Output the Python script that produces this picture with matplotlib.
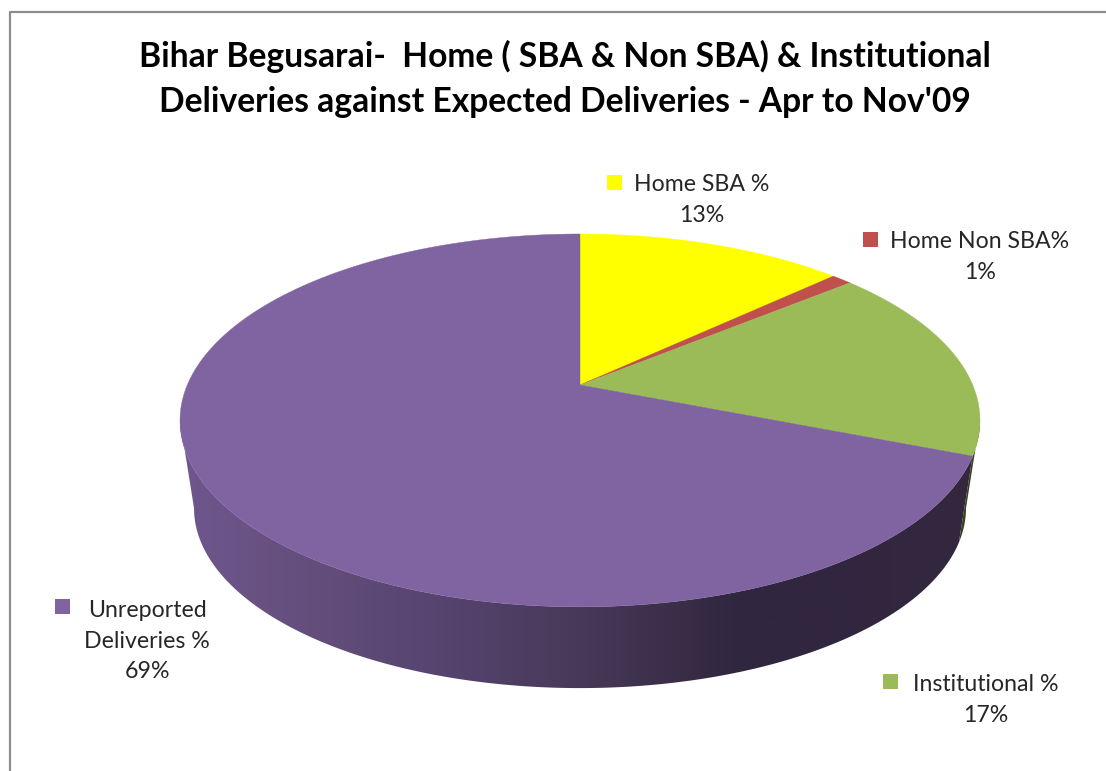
"""Begusarai deliveries: Excel-style 3D pie, drawn with a perspective map of the unit circle."""
import numpy as np
import matplotlib
matplotlib.use("Agg")
import matplotlib.pyplot as plt
from matplotlib.patches import Polygon, Rectangle

plt.rcParams["font.family"] = ["Lato", "DejaVu Sans"]

categories = ["Home SBA %", "Home Non SBA%", "Institutional %", "Unreported\nDeliveries %"]
values = [13, 1, 17, 69]
colors = ["#ffff00", "#c0504d", "#9bbb59", "#8064a2"]
title = "Bihar Begusarai-  Home ( SBA & Non SBA) & Institutional\nDeliveries against Expected Deliveries - Apr to Nov'09"

# layout, all in image pixels
W, H = 1106, 771
APEX = (580.0, 385.0)
PERSP = 0.19           # how strongly the near side of the pie swells
SY, SX = 179.7, 392.7
DEPTH, BOTTOM_SCALE = 89.0, 0.965
LABEL_POS = [(702, 200), (980, 257), (986, 700), (147, 641)]
KEY_POS = [(607, 175), (863, 232), (883, 674), (55, 599)]
WALL_X = [180, 282, 435, 588, 741, 800, 980]
WALL_C = ["#6f578e", "#66507f", "#574470", "#473857", "#30263f", "#31263f", "#34283f"]


def project(t, scale=1.0, drop=0.0):
    """Angle t (rad, clockwise from the top of the pie) to image pixels."""
    d = 1 + PERSP * np.cos(t)
    return (APEX[0] + scale * SX * np.sin(t) / d,
            APEX[1] + drop - scale * SY * np.cos(t) / d)


def wall_outline(t0, t1):
    ts = np.linspace(t0, t1, 200)
    xt, yt = project(ts)
    xb, yb = project(ts[::-1], BOTTOM_SCALE, DEPTH)
    return np.c_[np.r_[xt, xb], np.r_[yt, yb]]


edges = np.r_[0, np.cumsum(values)] / np.sum(values) * 2 * np.pi
side = np.arccos(-PERSP)      # where the outline of the pie is widest

fig = plt.figure(figsize=(W / 100, H / 100), dpi=100)
ax = fig.add_axes([0, 0, 1, 1])

ax.plot([10, 10, W], [H, 12, 12], color="#8c8c8c", lw=1.6, zorder=1)

# side walls first, the top surface covers whatever is hidden
ax.add_patch(Polygon(wall_outline(side, edges[3]), facecolor="#36431c", edgecolor="none", zorder=2))

gx = np.arange(WALL_X[0], WALL_X[-1] + 1)
rgb = np.array([matplotlib.colors.to_rgb(c) for c in WALL_C])
grad = np.stack([np.interp(gx, WALL_X, rgb[:, i]) for i in range(3)], axis=-1)[None, :, :]
im = ax.imshow(grad, extent=(WALL_X[0], WALL_X[-1], H, 0), aspect="auto", zorder=2)
clip = Polygon(wall_outline(edges[3], 2 * np.pi - side), transform=ax.transData)
im.set_clip_path(clip)

for i, c in enumerate(colors):
    ts = np.linspace(edges[i], edges[i + 1], 200)
    xs, ys = project(ts)
    ax.fill(np.r_[APEX[0], xs], np.r_[APEX[1], ys], color=c, lw=0.3, zorder=3)

for name, v, c, (lx, ly), (kx, ky) in zip(categories, values, colors, LABEL_POS, KEY_POS):
    ax.add_patch(Rectangle((kx, ky), 15, 15, facecolor=c, edgecolor="none", zorder=4))
    ax.text(lx, ly, f"{name}\n{v}%", ha="center", va="center", fontsize=16.7,
            color="#262626", linespacing=1.55, zorder=5)

ax.text(564.5, 79, title, ha="center", va="center", fontsize=24.2, fontweight="bold",
        color="black", linespacing=1.5, zorder=5)

ax.set_xlim(0, W)
ax.set_ylim(H, 0)
ax.axis("off")

fig.savefig("out.png", dpi=100)
